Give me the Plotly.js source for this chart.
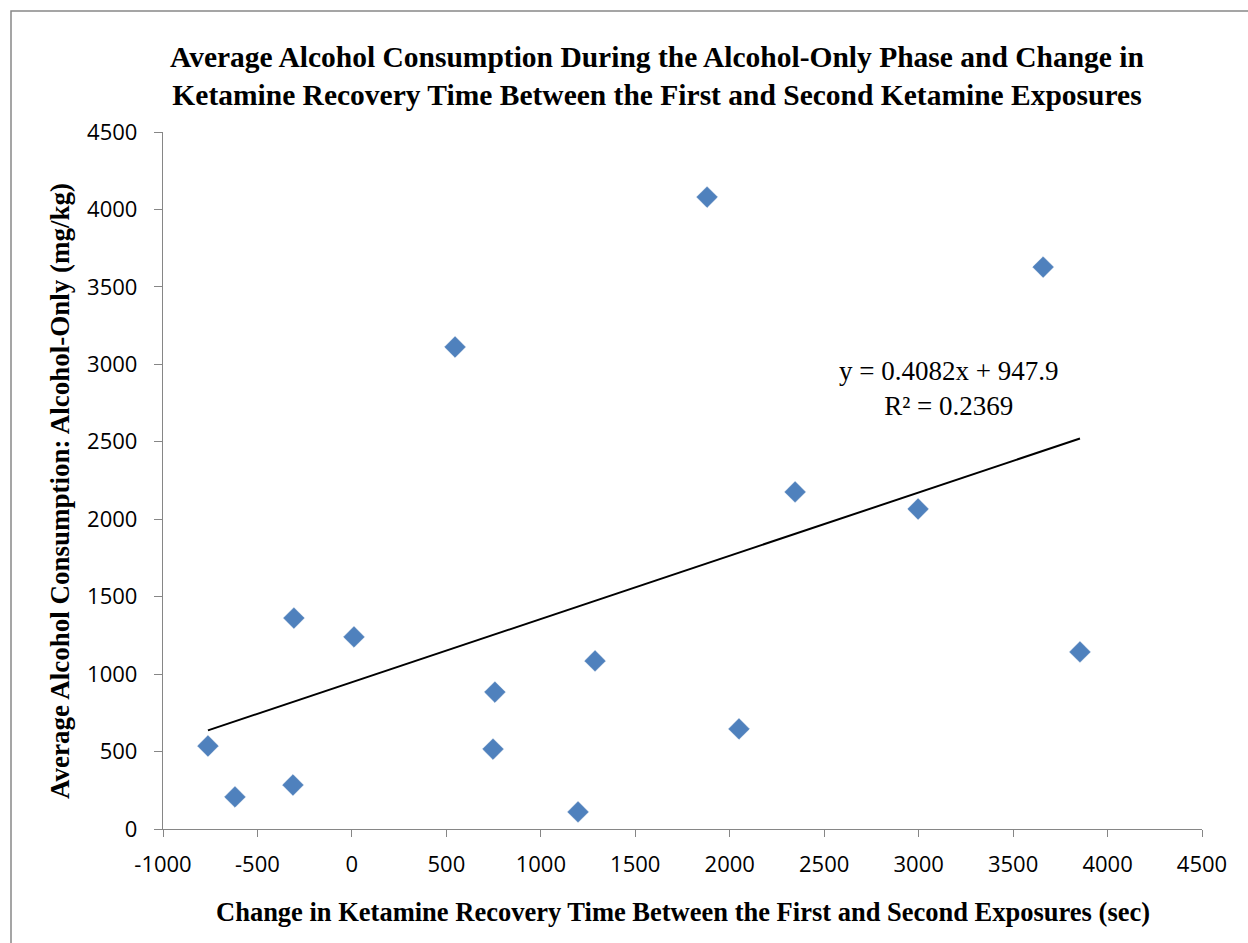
<!DOCTYPE html>
<html>
<head>
<meta charset="utf-8">
<script src="https://cdn.plot.ly/plotly-3.0.1.min.js"></script>
<style>
html,body{margin:0;padding:0;background:#fff;}
#chart{width:1248px;height:943px;}
</style>
</head>
<body>
<div id="chart"></div>
<script>
// Data
const recoveryChange = [-762, -619, -312, -307, 11, 546, 747, 757, 1197, 1287, 1880, 2049, 2346, 2997, 3659, 3854];
const alcoholConsumption = [536, 207, 284, 1362, 1240, 3112, 516, 884, 110, 1085, 4080, 646, 2176, 2066, 3628, 1143];
const trendSlope = 0.4082;
const trendIntercept = 947.9;
const trendR2 = 0.2369;

const xTickValues = [-1000, -500, 0, 500, 1000, 1500, 2000, 2500, 3000, 3500, 4000, 4500];
const xTickLabels = ["-1000", "-500", "0", "500", "1000", "1500", "2000", "2500", "3000", "3500", "4000", "4500"];
const yTickValues = [0, 500, 1000, 1500, 2000, 2500, 3000, 3500, 4000, 4500];
const yTickLabels = ["0", "500", "1000", "1500", "2000", "2500", "3000", "3500", "4000", "4500"];

const chartTitle = "Average Alcohol Consumption During the Alcohol-Only Phase and Change in<br>Ketamine Recovery Time Between the First and Second Ketamine Exposures";
const xTitle = "Change in Ketamine Recovery Time Between the First and Second Exposures (sec)";
const yTitle = "Average Alcohol Consumption: Alcohol-Only (mg/kg)";

const xMin = Math.min(...recoveryChange);
const xMax = Math.max(...recoveryChange);
const trendX = [xMin, xMax];
const trendY = trendX.map(v => trendSlope * v + trendIntercept);

const serif = "'Liberation Serif', 'Times New Roman', serif";
const sans = "'Open Sans', 'Noto Sans', sans-serif";
const axisGray = "#868686";

const traces = [
  {
    x: recoveryChange, y: alcoholConsumption,
    type: "scatter", mode: "markers",
    marker: {symbol: "diamond", size: 16, color: "#4F81BD", line: {width: 0.5, color: "#4A7AB5"}},
    showlegend: false, hoverinfo: "x+y"
  },
  {
    x: trendX, y: trendY,
    type: "scatter", mode: "lines",
    line: {color: "#000000", width: 2},
    showlegend: false, hoverinfo: "skip"
  }
];

const layout = {
  width: 1248, height: 943,
  paper_bgcolor: "#ffffff", plot_bgcolor: "#ffffff",
  margin: {l: 163, r: 46, t: 132, b: 114},
  title: {
    text: chartTitle,
    font: {family: serif, size: 29.5, color: "#000", weight: "bold"},
    xref: "container", yref: "container",
    x: 657/1248, xanchor: "center",
    y: 1 - 67/943, yanchor: "middle"
  },
  xaxis: {
    range: [-1000, 4500],
    tickmode: "array", tickvals: xTickValues, ticktext: xTickLabels,
    showgrid: false, zeroline: false,
    showline: true, linecolor: axisGray, linewidth: 1.3,
    ticks: "outside", ticklen: 7, tickcolor: axisGray, tickwidth: 1.3,
    tickfont: {family: sans, size: 22, color: "#000"},
    ticklabelstandoff: 8
  },
  yaxis: {
    range: [0, 4500],
    tickmode: "array", tickvals: yTickValues, ticktext: yTickLabels,
    showgrid: false, zeroline: false,
    showline: true, linecolor: axisGray, linewidth: 1.3,
    ticks: "outside", ticklen: 8, tickcolor: axisGray, tickwidth: 1.3,
    tickfont: {family: sans, size: 22, color: "#000"},
    ticklabelstandoff: 12
  },
  annotations: [
    {
      x: 3156, y: 2847, xref: "x", yref: "y",
      text: "y = " + trendSlope.toFixed(4) + "x + " + trendIntercept.toFixed(1) + "<br>R² = " + trendR2.toFixed(4),
      showarrow: false, align: "center",
      font: {family: serif, size: 27, color: "#000"}
    },
    {
      x: (683 - 163) / 1039, y: (829 - 912) / 697, xref: "paper", yref: "paper",
      xanchor: "center", yanchor: "middle", showarrow: false,
      text: "<b>" + xTitle + "</b>",
      font: {family: serif, size: 26.5, color: "#000"}
    },
    {
      x: (60 - 163) / 1039, y: (829 - 491) / 697, xref: "paper", yref: "paper",
      xanchor: "center", yanchor: "middle", showarrow: false, textangle: -90,
      text: "<b>" + yTitle + "</b>",
      font: {family: serif, size: 27, color: "#000"}
    }
  ],
  shapes: [
    {
      type: "rect", xref: "paper", yref: "paper",
      x0: -152/1039, x1: 1.08, y0: -0.25, y1: 818/697,
      line: {color: "#888888", width: 1.5}, fillcolor: "rgba(0,0,0,0)", layer: "above"
    }
  ]
};

Plotly.newPlot("chart", traces, layout, {displayModeBar: false, responsive: false});
</script>
</body>
</html>
